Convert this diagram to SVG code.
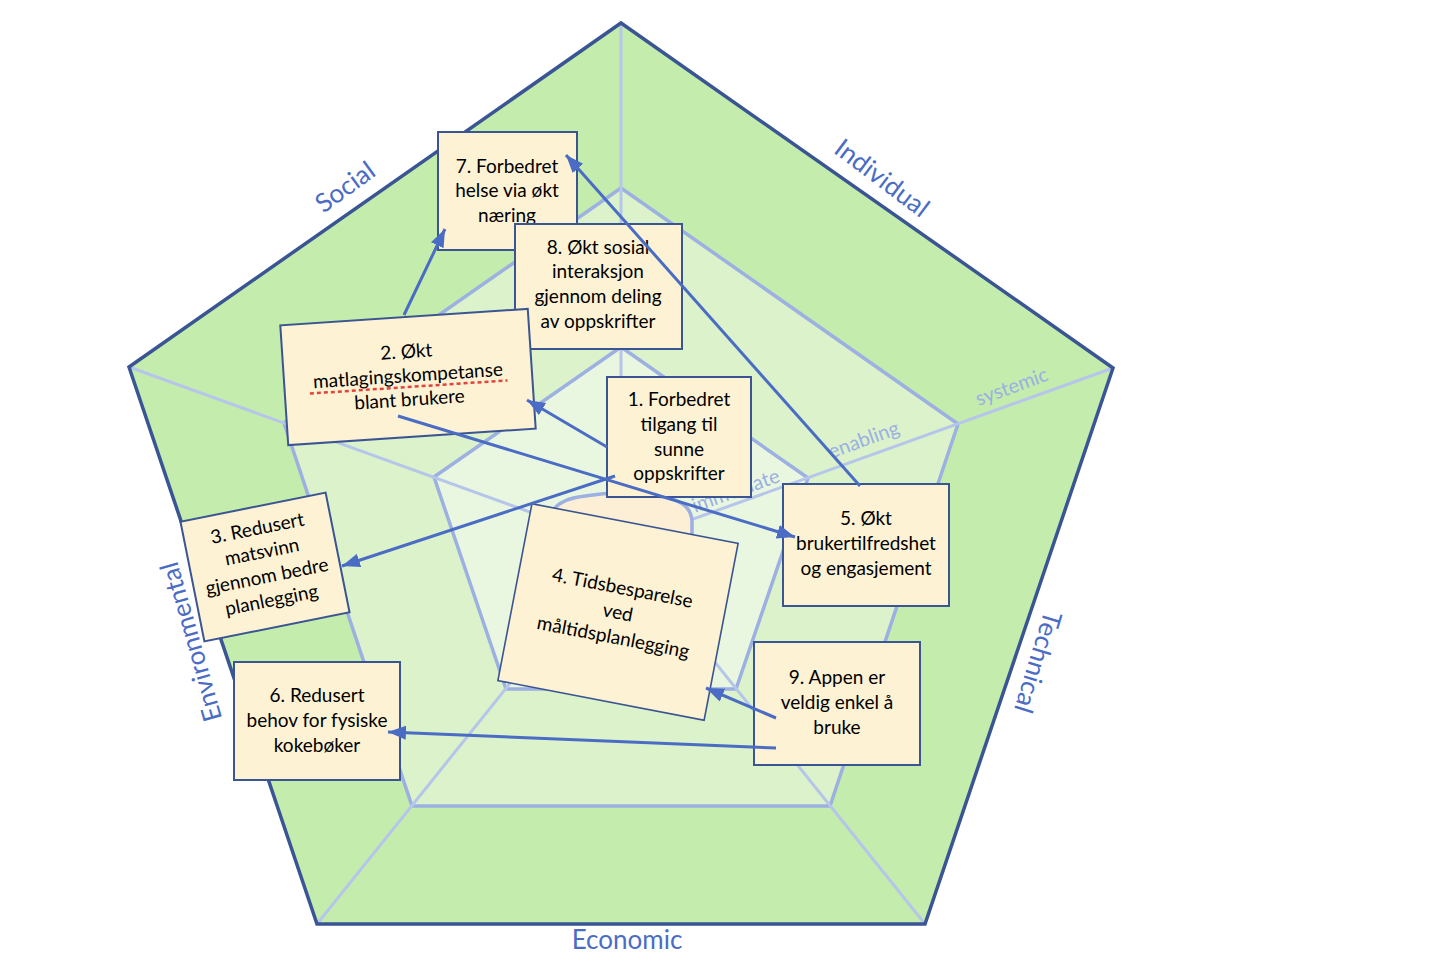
<svg xmlns="http://www.w3.org/2000/svg" width="1436" height="980" viewBox="0 0 1436 980">
<style>
.box{fill:#fdf2d3;stroke:#3b5592;stroke-width:2}
.t{font-family:Lato,"Liberation Sans",sans-serif;font-size:19px;fill:#000;text-anchor:middle}
.ax{font-family:Lato,"Liberation Sans",sans-serif;font-size:26px;fill:#4a6cc5;text-anchor:middle}
.rl{font-family:Lato,"Liberation Sans",sans-serif;font-size:20px;fill:#9cb0e2;text-anchor:middle}
.ring{stroke:#9cb0e2;stroke-width:3.5;stroke-linejoin:round}
.rad{stroke:#b6c5ea;stroke-width:3;fill:none}
.con{stroke:#4a6cc4;stroke-width:3;fill:none;marker-end:url(#ah)}
</style>
<defs>
<marker id="ah" markerUnits="userSpaceOnUse" markerWidth="20" markerHeight="16" refX="18" refY="7" orient="auto">
<path d="M0,0 L18,7 L0,14 Z" fill="#4a6cc4"/>
</marker>
</defs>
<rect width="1436" height="980" fill="#ffffff"/>
<g id="background">
<polygon points="621,23 1113,368 925,924 317,924 129,367" fill="#c4ecad"/>
<polygon class="ring" points="621,188 958,424 830,806 412,806 284,423" fill="#dbf2cb"/>
<polygon class="ring" points="621,347 808,478 736,689 506,689 434,477" fill="#e9f7e0"/>
<path class="rad" d="M621,23 L621,545 M1113,368 L621,545 M925,924 L621,545 M317,924 L621,545 M129,367 L621,545"/>
<polygon points="621,23 1113,368 925,924 317,924 129,367" fill="none" stroke="#3a5594" stroke-width="3.5" stroke-linejoin="miter"/>
<path d="M550,560 L550,522 Q550,500 585,496 Q621,490 657,496 Q692,500 692,522 L692,560 Z" fill="#fcefd5" stroke="#9cb0e2" stroke-width="3.5"/>
<text class="rl" transform="translate(1014,393) rotate(-20)" font-size="19">systemic</text>
<text class="rl" transform="translate(866,446) rotate(-20)">enabling</text>
<text class="rl" transform="translate(738,497) rotate(-20)">immediate</text>
<text class="ax" transform="translate(345,187) rotate(-36)" dy="9">Social</text>
<text class="ax" transform="translate(882,178) rotate(37)" dy="9">Individual</text>
<text class="ax" transform="translate(1038,662) rotate(107)" dy="9">Technical</text>
<text class="ax" x="627" y="949">Economic</text>
<text class="ax" transform="translate(191,642) rotate(-106)" dy="9">Environmental</text>
</g>
<g id="node7">
<rect class="box" x="438" y="132" width="139" height="118"/>
<text class="t" x="507" y="173">7. Forbedret</text>
<text class="t" x="507" y="197">helse via økt</text>
<text class="t" x="507" y="222">næring</text>
</g>
<g id="node8">
<rect class="box" x="515" y="224" width="167" height="125"/>
<text class="t" x="598" y="254">8. Økt sosial</text>
<text class="t" x="598" y="278">interaksjon</text>
<text class="t" x="598" y="303">gjennom deling</text>
<text class="t" x="598" y="328">av oppskrifter</text>
</g>
<g id="node2" transform="translate(408,377) rotate(-3.8)">
<rect class="box" x="-124" y="-60" width="248" height="120"/>
<text class="t" x="0" y="-19">2. Økt</text>
<text class="t" x="0" y="5">matlagingskompetanse</text>
<line x1="-99" y1="10" x2="99" y2="10" stroke="#e0443c" stroke-width="2.5" stroke-dasharray="4,3"/>
<text class="t" x="0" y="29">blant brukere</text>
</g>
<g id="node1">
<rect class="box" x="607" y="377" width="144" height="120"/>
<text class="t" x="679" y="406">1. Forbedret</text>
<text class="t" x="679" y="431">tilgang til</text>
<text class="t" x="679" y="456">sunne</text>
<text class="t" x="679" y="480">oppskrifter</text>
</g>
<g id="node3" transform="translate(265,567) rotate(-11.3)">
<rect class="box" x="-74" y="-61" width="148" height="122"/>
<text class="t" x="0" y="-33">3. Redusert</text>
<text class="t" x="0" y="-9">matsvinn</text>
<text class="t" x="0" y="16">gjennom bedre</text>
<text class="t" x="0" y="40">planlegging</text>
</g>
<g id="node4" transform="translate(618,612) rotate(10.9)">
<rect class="box" x="-105" y="-90" width="210" height="180" style="stroke-width:1.6"/>
<text class="t" x="0" y="-18">4. Tidsbesparelse</text>
<text class="t" x="0" y="7">ved</text>
<text class="t" x="0" y="32">måltidsplanlegging</text>
</g>
<g id="node5">
<rect class="box" x="783" y="484" width="166" height="122"/>
<text class="t" x="866" y="525">5. Økt</text>
<text class="t" x="866" y="550">brukertilfredshet</text>
<text class="t" x="866" y="575">og engasjement</text>
</g>
<g id="node6">
<rect class="box" x="234" y="662" width="166" height="118"/>
<text class="t" x="317" y="702">6. Redusert</text>
<text class="t" x="317" y="727">behov for fysiske</text>
<text class="t" x="317" y="752">kokebøker</text>
</g>
<g id="node9">
<rect class="box" x="754" y="642" width="166" height="123"/>
<text class="t" x="837" y="684">9. Appen er</text>
<text class="t" x="837" y="709">veldig enkel å</text>
<text class="t" x="837" y="734">bruke</text>
</g>
<g id="connectors">
<path class="con" d="M607,447 L527,400"/>
<path class="con" d="M615,476 L342,566"/>
<path class="con" d="M398,416 L795,537"/>
<path class="con" d="M404,315 L445,229"/>
<path class="con" d="M860,486 L566,155"/>
<path class="con" d="M776,718 L706,688"/>
<path class="con" d="M776,748 L388,732"/>
</g>
</svg>
